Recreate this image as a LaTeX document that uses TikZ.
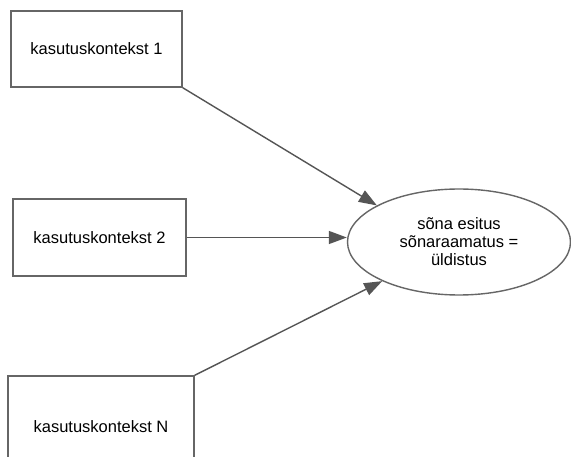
\documentclass[tikz,border=0pt]{standalone}
\usepackage{fontspec}
\setmainfont{Liberation Sans}
\usetikzlibrary{shapes.geometric,arrows.meta}
\definecolor{linegray}{HTML}{555555}
\definecolor{boxgray}{HTML}{666666}
\begin{document}
\begin{tikzpicture}[x=1pt,y=-1pt,
  ctxbox/.style={draw=boxgray,line width=1.4pt,rectangle,inner sep=0pt,
    font=\fontsize{16.5}{18}\selectfont},
  ellnode/.style={draw=boxgray,line width=1.4pt,ellipse,inner sep=0pt,
    minimum width=223pt,minimum height=106pt,align=center,
    font=\fontsize{16.5}{18}\selectfont},
  conn/.style={draw=linegray,line width=1.4pt,
    -{Triangle[length=18pt,width=13pt]}}]
\useasboundingbox (0,0) rectangle (571,457);
\fill[white] (0,0) rectangle (571,457);
\clip (0,0) rectangle (571,457);
\node[ctxbox,minimum width=171pt,minimum height=76pt] (b1) at (96.5,49) {kasutuskontekst 1};
\node[ctxbox,minimum width=173pt,minimum height=77pt] (b2) at (99.5,237.5) {kasutuskontekst 2};
\node[ctxbox,minimum width=186pt,minimum height=102pt] (b3) at (101,427) {kasutuskontekst N};
\node[ellnode] (e) at (459,242) {sõna esitus\\sõnaraamatus =\\üldistus};
\draw[conn] (b1.south east) -- (e.156);
\draw[conn] (b2.east) -- (b2.east -| e.west);
\draw[conn] (b3.north east) -- (e.207);
\end{tikzpicture}
\end{document}
